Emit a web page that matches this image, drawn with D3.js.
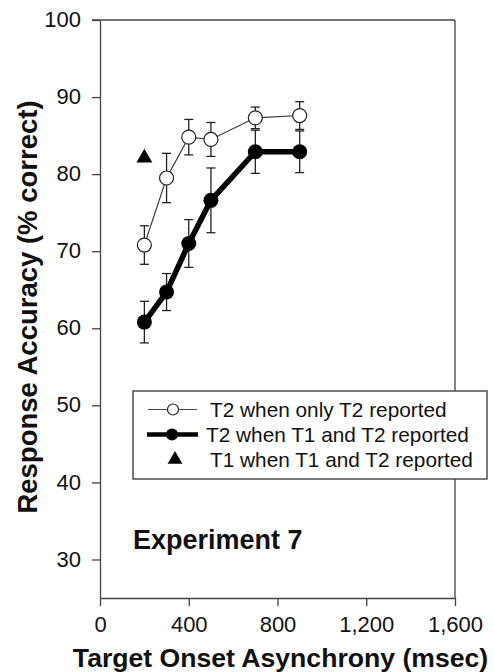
<!DOCTYPE html>
<html>
<head>
<meta charset="utf-8">
<script src="https://cdn.jsdelivr.net/npm/d3@7"></script>
<style>
  html, body { margin: 0; padding: 0; background: #fff; }
  svg { display: block; font-family: "Liberation Sans", Arial, sans-serif; }
</style>
</head>
<body>
<svg id="chart" width="494" height="672"></svg>
<script>
// ---- data ----
const soa = [200, 300, 400, 500, 700, 900];
const t2OnlyMean = [70.8, 79.5, 84.8, 84.5, 87.3, 87.6];
const t2OnlyErr  = [2.5, 3.2, 2.3, 2.2, 1.4, 1.8];
const t2BothMean = [60.8, 64.7, 71.0, 76.6, 82.9, 82.9];
const t2BothErr  = [2.7, 2.4, 3.1, 4.2, 2.8, 2.7];
const t1BothSoa  = [200];
const t1BothMean = [82.1];
const xTicks = [0, 400, 800, 1200, 1600];
const yTicks = [30, 40, 50, 60, 70, 80, 90, 100];
const legendLabels = ["T2 when only T2 reported", "T2 when T1 and T2 reported", "T1 when T1 and T2 reported"];
const xTitle = "Target Onset Asynchrony (msec)";
const yTitle = "Response Accuracy (% correct)";
const panelLabel = "Experiment 7";

// ---- layout ----
const svg = d3.select("#chart");
const L = 100, R = 455, T = 20, B = 598;
const x = d3.scaleLinear().domain([0, 1600]).range([L, R]);
const y = d3.scaleLinear().domain([25, 100]).range([B, T]);
const axisColor = "#444";

// frame (top and right)
svg.append("line").attr("x1", L - 8).attr("x2", R).attr("y1", T).attr("y2", T)
  .attr("stroke", axisColor).attr("stroke-width", 1.3);
svg.append("line").attr("x1", R).attr("x2", R).attr("y1", T).attr("y2", B)
  .attr("stroke", axisColor).attr("stroke-width", 1.3);

// axes
const fmt = d3.format(",");
const gx = svg.append("g").attr("transform", `translate(0,${B})`)
  .call(d3.axisBottom(x).tickValues(xTicks).tickFormat(fmt).tickSize(8).tickPadding(10).tickSizeOuter(0));
const gy = svg.append("g").attr("transform", `translate(${L},0)`)
  .call(d3.axisLeft(y).tickValues(yTicks).tickSize(8).tickPadding(11).tickSizeOuter(0));
[gx, gy].forEach(g => {
  g.select(".domain").attr("stroke", axisColor).attr("stroke-width", 1.3);
  g.selectAll(".tick line").attr("stroke", axisColor).attr("stroke-width", 1.3);
  g.selectAll(".tick text").attr("fill", "#111")
    .style("font-family", '"Liberation Sans", Arial, sans-serif').style("font-size", "22px");
});
gy.selectAll(".tick text").attr("dy", "0.3em");

// titles
svg.append("text").attr("x", (L + R) / 2 + 3).attr("y", 667).attr("text-anchor", "middle")
  .style("font-size", "26.6px").style("font-weight", "bold").attr("fill", "#111").text(xTitle);
svg.append("text").attr("transform", `translate(37,${(T + B) / 2 - 2}) rotate(-90)`)
  .attr("text-anchor", "middle").style("font-size", "27.5px").style("font-weight", "bold")
  .attr("fill", "#111").text(yTitle);
svg.append("text").attr("x", 133).attr("y", 549)
  .style("font-size", "27px").style("font-weight", "bold").attr("fill", "#111").text(panelLabel);

// ---- series ----
const both = soa.map((s, i) => ({ s, m: t2BothMean[i], e: t2BothErr[i] }));
const only = soa.map((s, i) => ({ s, m: t2OnlyMean[i], e: t2OnlyErr[i] }));
const line = d3.line().x(d => x(d.s)).y(d => y(d.m));

function errorBars(data, sw) {
  const g = svg.append("g").attr("stroke", "#222").attr("stroke-width", sw);
  data.forEach(d => {
    g.append("line").attr("x1", x(d.s)).attr("x2", x(d.s)).attr("y1", y(d.m - d.e)).attr("y2", y(d.m + d.e));
    g.append("line").attr("x1", x(d.s) - 4.5).attr("x2", x(d.s) + 4.5).attr("y1", y(d.m - d.e)).attr("y2", y(d.m - d.e));
    g.append("line").attr("x1", x(d.s) - 4.5).attr("x2", x(d.s) + 4.5).attr("y1", y(d.m + d.e)).attr("y2", y(d.m + d.e));
  });
}

// T2 when T1 and T2 reported (filled, thick)
errorBars(both, 1.3);
svg.append("path").datum(both).attr("d", line).attr("fill", "none")
  .attr("stroke", "#000").attr("stroke-width", 5.5).attr("stroke-linejoin", "round");
svg.append("g").selectAll("circle").data(both).join("circle")
  .attr("cx", d => x(d.s)).attr("cy", d => y(d.m)).attr("r", 7.5).attr("fill", "#000");

// T2 when only T2 reported (open, thin)
errorBars(only, 1.3);
svg.append("path").datum(only).attr("d", line).attr("fill", "none")
  .attr("stroke", "#333").attr("stroke-width", 1.1);
svg.append("g").selectAll("circle").data(only).join("circle")
  .attr("cx", d => x(d.s)).attr("cy", d => y(d.m)).attr("r", 7)
  .attr("fill", "#fff").attr("stroke", "#222").attr("stroke-width", 1.2);

// T1 when T1 and T2 reported (triangle)
const tri = d3.symbol().type(d3.symbolTriangle).size(110);
svg.append("g").selectAll("path").data(t1BothSoa.map((s, i) => ({ s, m: t1BothMean[i] }))).join("path")
  .attr("d", tri).attr("transform", d => `translate(${x(d.s)},${y(d.m)})`).attr("fill", "#000");

// ---- legend ----
const lg = svg.append("g");
lg.append("rect").attr("x", 133).attr("y", 391).attr("width", 354).attr("height", 88)
  .attr("fill", "#fff").attr("stroke", "#333").attr("stroke-width", 1.3);
const rows = [416.5, 441.5, 466.5];
const textX = [210, 206, 210];
// row 1
lg.append("line").attr("x1", 148).attr("x2", 197).attr("y1", rows[0] - 7).attr("y2", rows[0] - 7)
  .attr("stroke", "#444").attr("stroke-width", 1.1);
lg.append("circle").attr("cx", 173).attr("cy", rows[0] - 7).attr("r", 5.5)
  .attr("fill", "#fff").attr("stroke", "#222").attr("stroke-width", 1.2);
// row 2
lg.append("line").attr("x1", 147).attr("x2", 198).attr("y1", rows[1] - 7).attr("y2", rows[1] - 7)
  .attr("stroke", "#000").attr("stroke-width", 4.5);
lg.append("circle").attr("cx", 172).attr("cy", rows[1] - 7).attr("r", 6).attr("fill", "#000");
// row 3
lg.append("path").attr("d", d3.symbol().type(d3.symbolTriangle).size(95))
  .attr("transform", `translate(175,${rows[2] - 7})`).attr("fill", "#000");
legendLabels.forEach((t, i) => {
  lg.append("text").attr("x", textX[i]).attr("y", rows[i]).style("font-size", "20.8px")
    .attr("fill", "#111").text(t);
});
</script>
</body>
</html>
